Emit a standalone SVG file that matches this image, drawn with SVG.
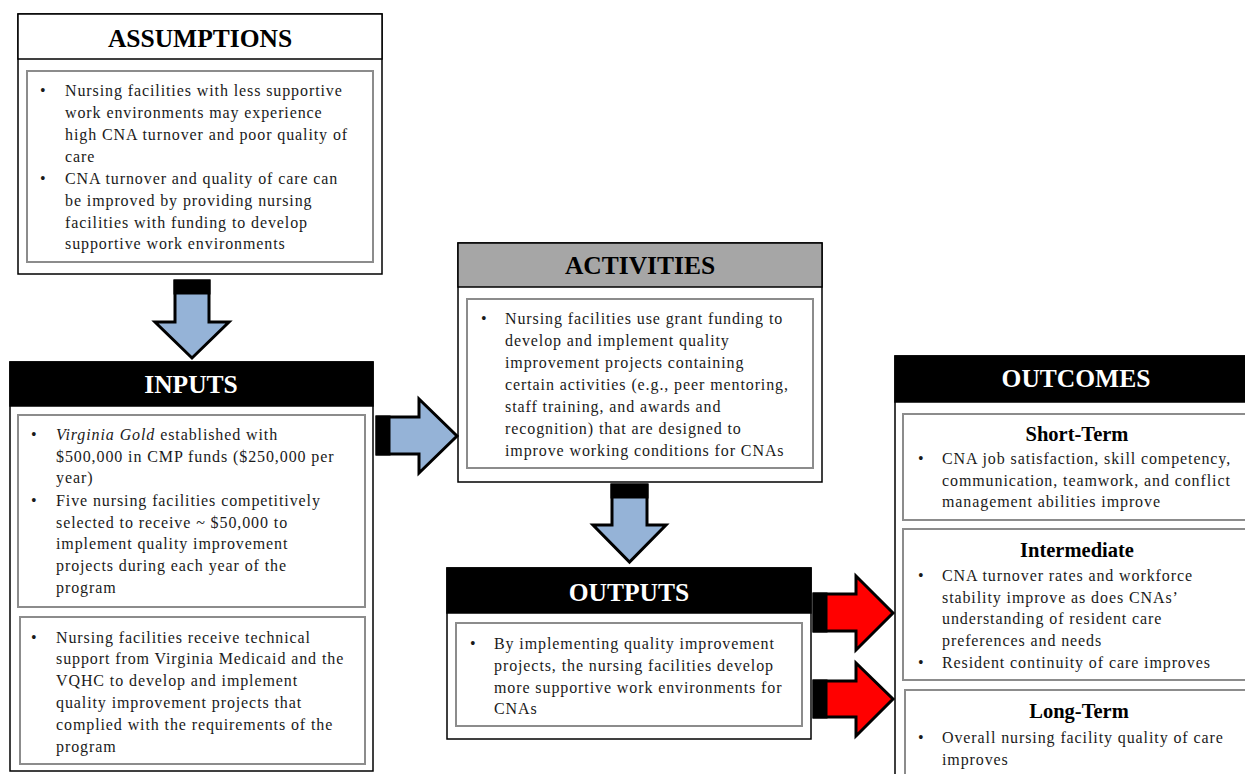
<svg xmlns="http://www.w3.org/2000/svg" width="1245" height="774" viewBox="0 0 1245 774">
<style>
.outer{fill:#ffffff;stroke:#000000;stroke-width:1.5}
.inner{fill:#ffffff;stroke:#8c8c8c;stroke-width:2}
.hdrB{fill:#000000;stroke:#000000;stroke-width:1.5}
.hdrG{fill:#a6a6a6;stroke:#000000;stroke-width:1.5}
.hdrW{fill:#ffffff;stroke:#000000;stroke-width:1.5}
.ht{font-family:"Liberation Serif","Times New Roman",serif;font-weight:bold;font-size:25.5px;text-anchor:middle}
.htw{fill:#ffffff}
.htk{fill:#000000}
.sub{font-family:"Liberation Serif","Times New Roman",serif;font-weight:bold;font-size:20.5px;text-anchor:middle;fill:#000000}
.bt{font-family:"Liberation Serif","Times New Roman",serif;font-size:16px;letter-spacing:0.9px;fill:#1a1a1a}
.blue{fill:#95b3d7;stroke:#000000;stroke-width:3;stroke-linejoin:miter}
.red{fill:#ff0000;stroke:#000000;stroke-width:3;stroke-linejoin:miter}
.band{fill:#000000}
</style>

<g id="assumptions">
<rect class="outer" x="18" y="14" width="364" height="260"/>
<rect class="hdrW" x="18" y="14" width="364" height="45"/>
<text class="ht htk" x="200" y="47">ASSUMPTIONS</text>
<rect class="inner" x="27" y="71" width="346" height="191"/>
<g class="bt">
<text x="40" y="96">•</text>
<text x="65" y="96">Nursing facilities with less supportive</text>
<text x="65" y="118">work environments may experience</text>
<text x="65" y="140">high CNA turnover and poor quality of</text>
<text x="65" y="162">care</text>
<text x="40" y="184">•</text>
<text x="65" y="184">CNA turnover and quality of care can</text>
<text x="65" y="206">be improved by providing nursing</text>
<text x="65" y="228">facilities with funding to develop</text>
<text x="65" y="249">supportive work environments</text>
</g>
</g>

<g id="inputs">
<rect class="outer" x="10" y="362" width="363" height="409"/>
<rect class="hdrB" x="10" y="362" width="363" height="44"/>
<text class="ht htw" x="191" y="393">INPUTS</text>
<rect class="inner" x="18" y="415" width="347" height="192"/>
<g class="bt">
<text x="31" y="440">•</text>
<text x="56" y="440"><tspan font-style="italic">Virginia Gold</tspan> established with</text>
<text x="56" y="462">$500,000 in CMP funds ($250,000 per</text>
<text x="56" y="483">year)</text>
<text x="31" y="506">•</text>
<text x="56" y="506">Five nursing facilities competitively</text>
<text x="56" y="528">selected to receive ~ $50,000 to</text>
<text x="56" y="549">implement quality improvement</text>
<text x="56" y="571">projects during each year of the</text>
<text x="56" y="593">program</text>
</g>
<rect class="inner" x="20" y="617" width="345" height="147"/>
<g class="bt">
<text x="31" y="643">•</text>
<text x="56" y="643">Nursing facilities receive technical</text>
<text x="56" y="664">support from Virginia Medicaid and the</text>
<text x="56" y="686">VQHC to develop and implement</text>
<text x="56" y="708">quality improvement projects that</text>
<text x="56" y="730">complied with the requirements of the</text>
<text x="56" y="752">program</text>
</g>
</g>

<g id="activities">
<rect class="outer" x="458" y="243" width="364" height="239"/>
<rect class="hdrG" x="458" y="243" width="364" height="44"/>
<text class="ht htk" x="640" y="274">ACTIVITIES</text>
<rect class="inner" x="467" y="299" width="346" height="169"/>
<g class="bt">
<text x="481" y="324">•</text>
<text x="505" y="324">Nursing facilities use grant funding to</text>
<text x="505" y="346">develop and implement quality</text>
<text x="505" y="368">improvement projects containing</text>
<text x="505" y="390">certain activities (e.g., peer mentoring,</text>
<text x="505" y="412">staff training, and awards and</text>
<text x="505" y="434">recognition) that are designed to</text>
<text x="505" y="456">improve working conditions for CNAs</text>
</g>
</g>

<g id="outputs">
<rect class="outer" x="447" y="568" width="364" height="171"/>
<rect class="hdrB" x="447" y="568" width="364" height="45"/>
<text class="ht htw" x="629" y="601">OUTPUTS</text>
<rect class="inner" x="456" y="623" width="346" height="103"/>
<g class="bt">
<text x="470" y="649">•</text>
<text x="494" y="649">By implementing quality improvement</text>
<text x="494" y="671">projects, the nursing facilities develop</text>
<text x="494" y="693">more supportive work environments for</text>
<text x="494" y="714">CNAs</text>
</g>
</g>

<g id="outcomes">
<rect class="outer" x="895" y="356" width="360" height="430"/>
<rect class="hdrB" x="895" y="356" width="360" height="46"/>
<text class="ht htw" x="1076" y="387">OUTCOMES</text>
<g id="short-term">
<rect class="inner" x="903" y="414" width="350" height="106"/>
<text class="sub" x="1077" y="441">Short-Term</text>
<g class="bt">
<text x="918" y="464">•</text>
<text x="942" y="464">CNA job satisfaction, skill competency,</text>
<text x="942" y="486">communication, teamwork, and conflict</text>
<text x="942" y="507">management abilities improve</text>
</g>
</g>
<g id="intermediate">
<rect class="inner" x="903" y="529" width="350" height="151"/>
<text class="sub" x="1077" y="557">Intermediate</text>
<g class="bt">
<text x="918" y="581">•</text>
<text x="942" y="581">CNA turnover rates and workforce</text>
<text x="942" y="603">stability improve as does CNAs’</text>
<text x="942" y="624">understanding of resident care</text>
<text x="942" y="646">preferences and needs</text>
<text x="918" y="668">•</text>
<text x="942" y="668">Resident continuity of care improves</text>
</g>
</g>
<g id="long-term">
<rect class="inner" x="905" y="690" width="348" height="100"/>
<text class="sub" x="1079" y="718">Long-Term</text>
<g class="bt">
<text x="918" y="743">•</text>
<text x="942" y="743">Overall nursing facility quality of care</text>
<text x="942" y="765">improves</text>
</g>
</g>
</g>

<g id="connectors">
<g id="arrow-assumptions-inputs">
<polygon class="blue" points="175,281 209,281 209,322 229,322 192,358 155,322 175,322"/>
<rect class="band" x="173.5" y="279.5" width="37" height="15"/>
</g>
<g id="arrow-inputs-activities">
<polygon class="blue" points="377,417 419,417 419,399 457,436 419,473 419,454 377,454"/>
<rect class="band" x="375.5" y="415.5" width="15" height="40"/>
</g>
<g id="arrow-activities-outputs">
<polygon class="blue" points="612,485 647,485 647,525 666,525 629.5,562 593,525 612,525"/>
<rect class="band" x="610.5" y="483.5" width="38" height="15"/>
</g>
<g id="arrow-outputs-outcomes-1">
<polygon class="red" points="814,594 856,594 856,576 893,613 856,650 856,631 814,631"/>
<rect class="band" x="812.5" y="592.5" width="15" height="40"/>
</g>
<g id="arrow-outputs-outcomes-2">
<polygon class="red" points="814,681 856,681 856,663 893,699 856,736 856,717 814,717"/>
<rect class="band" x="812.5" y="679.5" width="15" height="39"/>
</g>
</g>
</svg>
